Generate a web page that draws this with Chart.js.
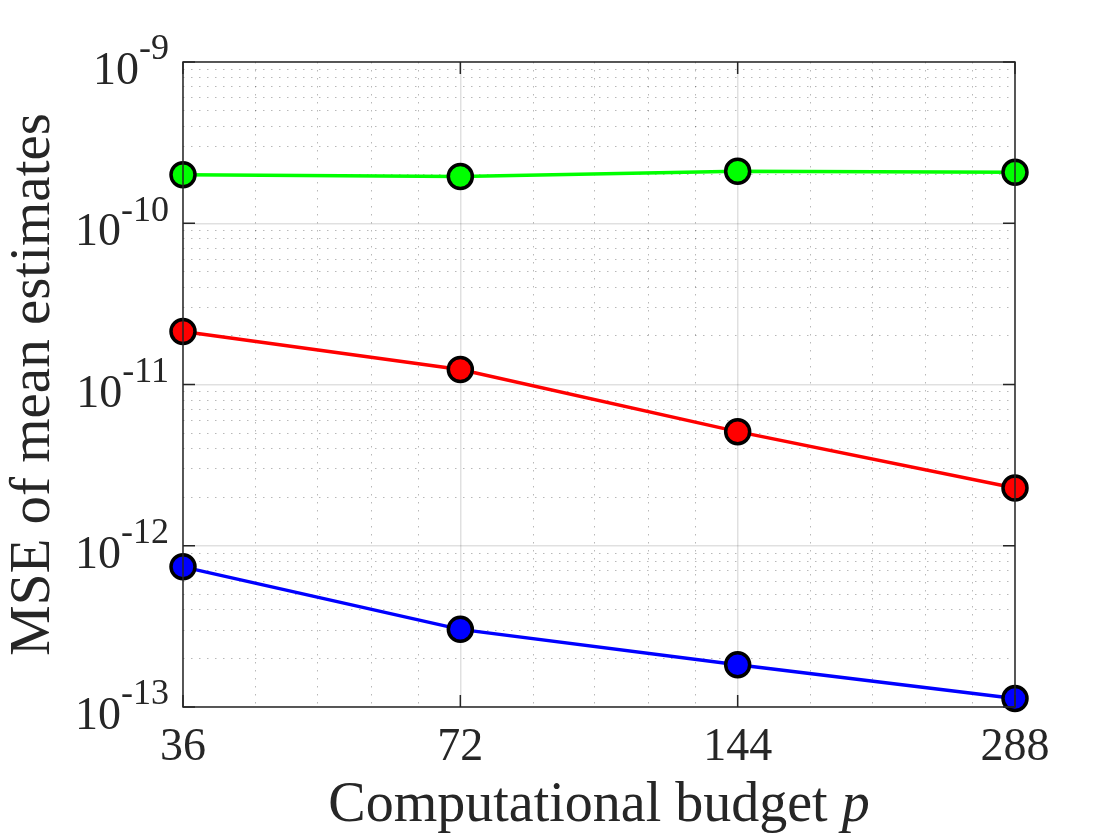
<!DOCTYPE html>
<html>
<head>
<meta charset="utf-8">
<script src="https://cdn.jsdelivr.net/npm/chart.js@4/dist/chart.umd.min.js"></script>
<style>
  body { margin: 0; background: #fff; }
  #wrap { width: 1120px; height: 840px; }
</style>
</head>
<body>
<div id="wrap"><canvas id="mse_chart"></canvas></div>
<script>
// values
const budget = [36, 72, 144, 288];
const mse_green = [2.0e-10, 1.95e-10, 2.10e-10, 2.07e-10];
const mse_red = [2.13e-11, 1.24e-11, 5.1e-12, 2.28e-12];
const mse_blue = [7.4e-13, 3.03e-13, 1.83e-13, 1.13e-13];

const y_ticks = [1e-13, 1e-12, 1e-11, 1e-10, 1e-9];
const x_minor_steps = [1.2, 1.4, 1.6, 1.8];   // minor grid inside each octave
const y_minor_steps = [2, 3, 4, 5, 6, 7, 8, 9];

const text_color = "#262626";
const serif = "'Liberation Serif', 'DejaVu Serif', serif";

let x_minor = [];
budget.slice(0, -1).forEach(function (b) {
    x_minor_steps.forEach(function (s) { x_minor.push(b * s); });
});
let y_minor = [];
y_ticks.slice(0, -1).forEach(function (d) {
    y_minor_steps.forEach(function (s) { y_minor.push(d * s); });
});

function make_series(values, color) {
    return {
        "data": budget.map(function (b, i) { return {x: b, y: values[i]}; }),
        "borderColor": color,
        "backgroundColor": color,
        "borderWidth": 3.5,
        "pointRadius": 12,
        "pointHoverRadius": 12,
        "pointBorderWidth": 3.5,
        "pointBorderColor": "#000",
        "pointBackgroundColor": color,
        "tension": 0,
        "clip": false
    };
}

// box, inward ticks, y labels with exponents, x title with italic p
const axes_extras = {
    id: "axes_extras",
    afterDraw: function (chart) {
        const ctx = chart.ctx;
        const area = chart.chartArea;
        const xs = chart.scales.x;
        const ys = chart.scales.y;
        const tick_len = 12;
        ctx.save();
        ctx.strokeStyle = text_color;
        ctx.lineWidth = 1.5;
        ctx.strokeRect(area.left, area.top, area.right - area.left, area.bottom - area.top);
        ctx.beginPath();
        budget.forEach(function (b) {
            const px = xs.getPixelForValue(b);
            ctx.moveTo(px, area.bottom); ctx.lineTo(px, area.bottom - tick_len);
            ctx.moveTo(px, area.top); ctx.lineTo(px, area.top + tick_len);
        });
        y_ticks.forEach(function (v) {
            const py = ys.getPixelForValue(v);
            ctx.moveTo(area.left, py); ctx.lineTo(area.left + tick_len, py);
            ctx.moveTo(area.right, py); ctx.lineTo(area.right - tick_len, py);
        });
        ctx.stroke();

        ctx.fillStyle = text_color;
        ctx.textBaseline = "middle";
        ctx.textAlign = "right";
        const label_right = area.left - 14;
        y_ticks.forEach(function (v) {
            const py = ys.getPixelForValue(v);
            const exp_txt = "-" + Math.abs(Math.round(Math.log10(v)));
            ctx.font = "36px " + serif;
            const ew = ctx.measureText(exp_txt).width;
            ctx.fillText(exp_txt, label_right, py - 12);
            ctx.font = "46px " + serif;
            ctx.fillText("10", label_right - ew, py + 10);
        });

        const main_txt = "Computational budget ";
        ctx.font = "56px " + serif;
        const mw = ctx.measureText(main_txt).width;
        ctx.font = "italic 56px " + serif;
        const pw = ctx.measureText("p").width;
        const cx = (area.left + area.right) / 2;
        const start = cx - (mw + pw) / 2;
        ctx.textAlign = "left";
        ctx.textBaseline = "alphabetic";
        ctx.font = "56px " + serif;
        ctx.fillText(main_txt, start, 821);
        ctx.font = "italic 56px " + serif;
        ctx.fillText("p", start + mw, 821);
        ctx.restore();
    }
};

const mse_chart = new Chart(document.getElementById("mse_chart").getContext("2d"), {
    "type": "line",
    "data": {
        "datasets": [
            make_series(mse_green, "rgb(0, 255, 0)"),
            make_series(mse_red, "rgb(255, 0, 0)"),
            make_series(mse_blue, "rgb(0, 0, 255)")
        ]
    },
    "options": {
        "responsive": true,
        "maintainAspectRatio": false,
        "animation": false,
        "layout": {"padding": {"left": 0, "top": 62, "right": 105, "bottom": 0}},
        "plugins": {"legend": {"display": false}, "tooltip": {"enabled": false}},
        "scales": {
            "x": {
                "type": "logarithmic",
                "position": "bottom",
                "min": 36,
                "max": 288,
                "afterBuildTicks": function (scale) {
                    scale.ticks = budget.map(function (v) { return {value: v}; });
                },
                "afterFit": function (scale) { scale.height = 133; },
                "grid": {"color": "rgba(0,0,0,0.12)", "lineWidth": 1.5, "drawTicks": false},
                "border": {"display": false},
                "ticks": {
                    "color": text_color,
                    "font": {"family": serif, "size": 46},
                    "padding": 13,
                    "maxRotation": 0,
                    "autoSkip": false,
                    "callback": function (value) { return String(value); }
                }
            },
            "x2": {
                "type": "logarithmic",
                "position": "top",
                "min": 36,
                "max": 288,
                "afterBuildTicks": function (scale) {
                    scale.ticks = x_minor.map(function (v) { return {value: v}; });
                },
                "afterFit": function (scale) { scale.height = 0; },
                "grid": {"color": "rgba(0,0,0,0.28)", "lineWidth": 1, "drawTicks": false},
                "border": {"display": false, "dash": [1.5, 6.5]},
                "ticks": {"display": false}
            },
            "y": {
                "type": "logarithmic",
                "position": "left",
                "min": 1e-13,
                "max": 1e-9,
                "afterBuildTicks": function (scale) {
                    scale.ticks = y_ticks.map(function (v) { return {value: v}; });
                },
                "afterFit": function (scale) { scale.width = 183; },
                "grid": {"color": "rgba(0,0,0,0.12)", "lineWidth": 1.5, "drawTicks": false},
                "border": {"display": false},
                "ticks": {"display": false},
                "title": {
                    "display": true,
                    "text": "MSE of mean estimates",
                    "color": text_color,
                    "font": {"family": serif, "size": 57},
                    "padding": {"top": 0, "bottom": 0}
                }
            },
            "y2": {
                "type": "logarithmic",
                "position": "right",
                "min": 1e-13,
                "max": 1e-9,
                "afterBuildTicks": function (scale) {
                    scale.ticks = y_minor.map(function (v) { return {value: v}; });
                },
                "afterFit": function (scale) { scale.width = 0; },
                "grid": {"color": "rgba(0,0,0,0.28)", "lineWidth": 1, "drawTicks": false},
                "border": {"display": false, "dash": [1.5, 6.5]},
                "ticks": {"display": false}
            }
        }
    },
    "plugins": [axes_extras]
});
</script>
</body>
</html>
